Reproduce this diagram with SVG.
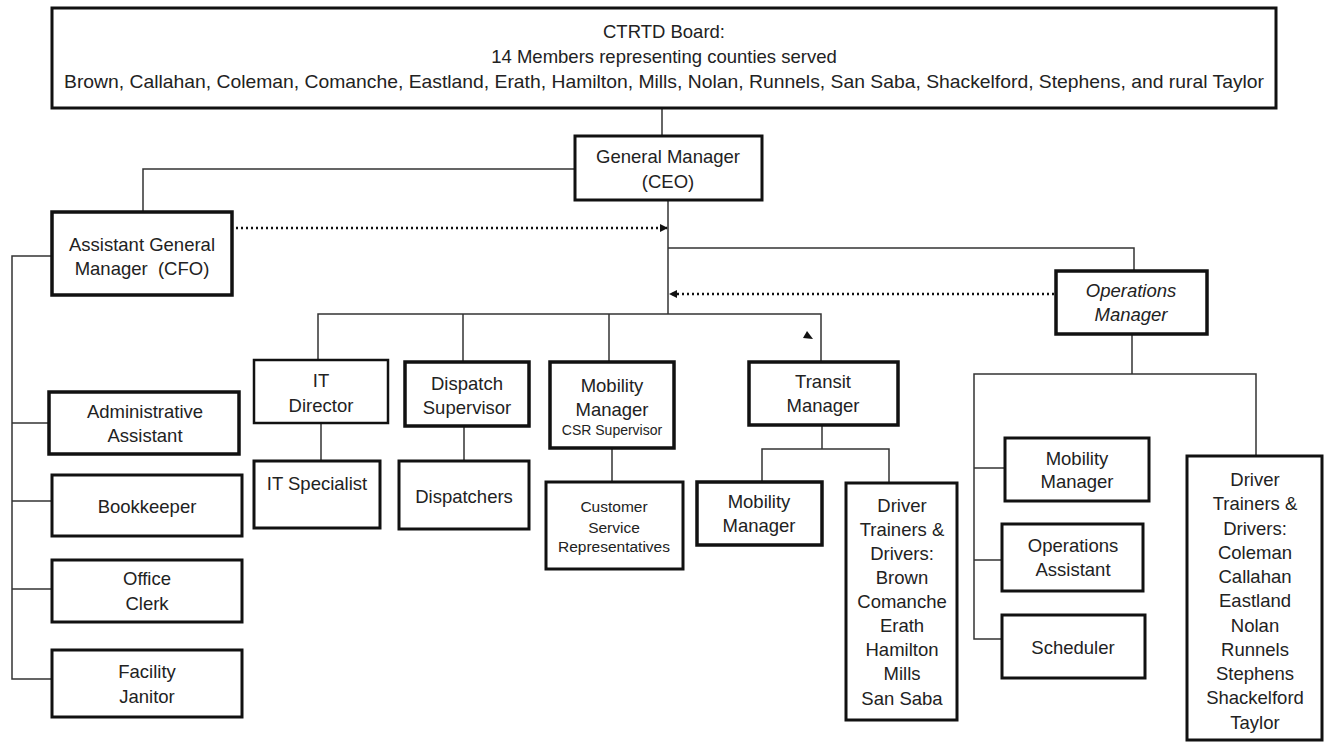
<svg xmlns="http://www.w3.org/2000/svg" width="1327" height="745" viewBox="0 0 1327 745">
<defs>
<style>
.box{fill:#fff;stroke:#111;stroke-width:3}
.thin{fill:#fff;stroke:#111;stroke-width:2.5}
.ln{fill:none;stroke:#333;stroke-width:1.5}
.dot{fill:none;stroke:#111;stroke-width:2.5;stroke-dasharray:2 3}
text{font-family:"Liberation Sans",Arial,sans-serif;font-size:18.5px;fill:#222;text-anchor:middle}
.it{font-style:italic}
.sm{font-size:14px}
.md{font-size:15.5px}
</style>
<marker id="ah" markerWidth="8" markerHeight="8" refX="7" refY="4" orient="auto" markerUnits="userSpaceOnUse">
<path d="M0,0 L8,4 L0,8 Z" fill="#111"/>
</marker>
</defs>
<rect width="1327" height="745" fill="#fff"/>
<g id="connectors">
<path class="ln" d="M662,108 V136"/>
<path class="ln" d="M575,169 H143 V212"/>
<path class="ln" d="M668,200 V314"/>
<path class="ln" d="M668,248 H1134 V271"/>
<path class="ln" d="M318,360 V314 H821 V362"/>
<path class="ln" d="M463,314 V362"/>
<path class="ln" d="M609,314 V362"/>
<path class="ln" d="M321,423 V461"/>
<path class="ln" d="M464,426 V461"/>
<path class="ln" d="M612,448 V482"/>
<path class="ln" d="M822,425 V449"/>
<path class="ln" d="M762,482 V449 H889 V483"/>
<path class="ln" d="M1132,334 V374"/>
<path class="ln" d="M1256,456 V374 H974 V639 H1002"/>
<path class="ln" d="M974,468 H1005"/>
<path class="ln" d="M974,560 H1002"/>
<path class="ln" d="M52,256 H12 V679 H52"/>
<path class="ln" d="M12,423 H49"/>
<path class="ln" d="M12,501 H52"/>
<path class="ln" d="M12,589 H52"/>
<path class="dot" d="M236,228 H667" marker-end="url(#ah)"/>
<path class="dot" d="M1054,294 H670" marker-end="url(#ah)"/>
<polygon points="807,331 813,339 803,338" fill="#111"/>
</g>
<g id="board">
<rect class="box" x="52" y="8" width="1224" height="100"/>
<text x="664" y="38">CTRTD Board:</text>
<text x="664" y="63">14 Members representing counties served</text>
<text x="664" y="88" textLength="1200" lengthAdjust="spacingAndGlyphs">Brown, Callahan, Coleman, Comanche, Eastland, Erath, Hamilton, Mills, Nolan, Runnels, San Saba, Shackelford, Stephens, and rural Taylor</text>
</g>
<g id="gm">
<rect class="box" x="575" y="136" width="187" height="64"/>
<text x="668" y="163">General Manager</text>
<text x="668" y="188">(CEO)</text>
</g>
<g id="agm">
<rect class="box" x="52" y="212" width="180" height="83" style="stroke-width:3.5"/>
<text x="142" y="251">Assistant General</text>
<text x="142" y="275">Manager&#160; (CFO)</text>
</g>
<g id="ops-manager">
<rect class="box" x="1056" y="271" width="151" height="63" style="stroke-width:3.5"/>
<text class="it" x="1131" y="297">Operations</text>
<text class="it" x="1131" y="321">Manager</text>
</g>
<g id="it-director">
<rect class="thin" x="254" y="360" width="134" height="63"/>
<text x="321" y="387">IT</text>
<text x="321" y="412">Director</text>
</g>
<g id="it-specialist">
<rect class="box" x="254" y="461" width="126" height="67"/>
<text x="317" y="490">IT Specialist</text>
</g>
<g id="dispatch-supervisor">
<rect class="box" x="405" y="362" width="124" height="64" style="stroke-width:3.5"/>
<text x="467" y="390">Dispatch</text>
<text x="467" y="414">Supervisor</text>
</g>
<g id="dispatchers">
<rect class="box" x="399" y="461" width="130" height="68"/>
<text x="464" y="503">Dispatchers</text>
</g>
<g id="mobility-csr">
<rect class="box" x="550" y="362" width="124" height="86" style="stroke-width:3.5"/>
<text x="612" y="392">Mobility</text>
<text x="612" y="416">Manager</text>
<text class="sm" x="612" y="435">CSR Supervisor</text>
</g>
<g id="csr">
<rect class="box" x="546" y="482" width="137" height="87"/>
<text class="md" x="614" y="512">Customer</text>
<text class="md" x="614" y="533">Service</text>
<text class="md" x="614" y="552">Representatives</text>
</g>
<g id="transit-manager">
<rect class="box" x="749" y="362" width="149" height="63" style="stroke-width:3.5"/>
<text x="823" y="388">Transit</text>
<text x="823" y="412">Manager</text>
</g>
<g id="mobility-transit">
<rect class="box" x="697" y="482" width="125" height="63" style="stroke-width:3.5"/>
<text x="759" y="508">Mobility</text>
<text x="759" y="532">Manager</text>
</g>
<g id="drivers-transit">
<rect class="box" x="846" y="483" width="111" height="237"/>
<text x="902" y="512">Driver</text>
<text x="902" y="536">Trainers &amp;</text>
<text x="902" y="560">Drivers:</text>
<text x="902" y="584">Brown</text>
<text x="902" y="608">Comanche</text>
<text x="902" y="632">Erath</text>
<text x="902" y="656">Hamilton</text>
<text x="902" y="680">Mills</text>
<text x="902" y="705">San Saba</text>
</g>
<g id="mobility-ops">
<rect class="box" x="1005" y="438" width="144" height="63"/>
<text x="1077" y="465">Mobility</text>
<text x="1077" y="488">Manager</text>
</g>
<g id="ops-assistant">
<rect class="box" x="1002" y="524" width="141" height="67"/>
<text x="1073" y="552">Operations</text>
<text x="1073" y="576">Assistant</text>
</g>
<g id="scheduler">
<rect class="box" x="1002" y="615" width="143" height="63"/>
<text x="1073" y="654">Scheduler</text>
</g>
<g id="drivers-ops">
<rect class="box" x="1187" y="456" width="135" height="284"/>
<text x="1255" y="486">Driver</text>
<text x="1255" y="510">Trainers &amp;</text>
<text x="1255" y="535">Drivers:</text>
<text x="1255" y="559">Coleman</text>
<text x="1255" y="583">Callahan</text>
<text x="1255" y="607">Eastland</text>
<text x="1255" y="632">Nolan</text>
<text x="1255" y="656">Runnels</text>
<text x="1255" y="680">Stephens</text>
<text x="1255" y="704">Shackelford</text>
<text x="1255" y="729">Taylor</text>
</g>
<g id="admin-assistant">
<rect class="box" x="49" y="392" width="190" height="62" style="stroke-width:3.5"/>
<text x="145" y="418">Administrative</text>
<text x="145" y="442">Assistant</text>
</g>
<g id="bookkeeper">
<rect class="box" x="52" y="475" width="190" height="61"/>
<text x="147" y="513">Bookkeeper</text>
</g>
<g id="office-clerk">
<rect class="box" x="52" y="560" width="190" height="62"/>
<text x="147" y="585">Office</text>
<text x="147" y="610">Clerk</text>
</g>
<g id="facility-janitor">
<rect class="box" x="52" y="650" width="190" height="67"/>
<text x="147" y="678">Facility</text>
<text x="147" y="703">Janitor</text>
</g>
</svg>
